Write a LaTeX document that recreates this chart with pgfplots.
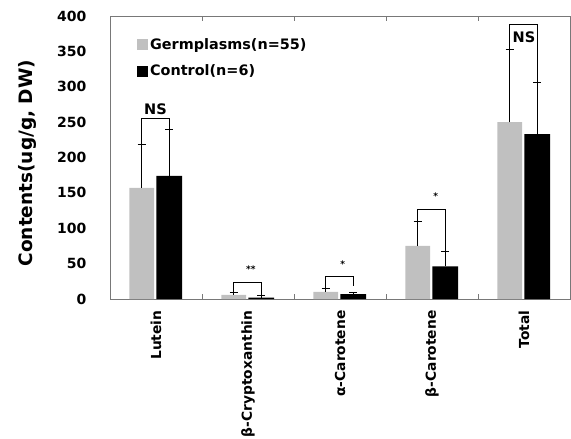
\documentclass[border=0pt]{standalone}
\usepackage{pgfplots}
\pgfplotsset{compat=1.18}
\usepackage{fontspec}
\setmainfont{DejaVu Sans}
\definecolor{barGray}{RGB}{192,192,192}
\definecolor{frameGray}{RGB}{120,120,120}
\pgfplotsset{sqlegend/.style={legend image code/.code={\fill[##1,draw=none] (0pt,-5.5pt) rectangle (11pt,5.5pt);}}}
\begin{document}
\begin{tikzpicture}[font=\bfseries]
\useasboundingbox (-110pt,-140pt) rectangle (461pt,299pt);
\begin{axis}[
  at={(0,0)}, anchor=south west,
  scale only axis, width=460pt, height=283pt,
  xmin=-0.5, xmax=4.5, ymin=0, ymax=400,
  ytick={0,50,...,400},
  xtick={0,1,2,3,4},
  xticklabels={Lutein, β-Cryptoxanthin, α-Carotene, β-Carotene, Total},
  /pgf/number format/assume math mode=true,
  x tick label style={rotate=90, anchor=east, font=\bfseries\fontsize{13.8}{14}\selectfont},
  xticklabel shift=8pt,
  y tick label style={font=\bfseries\fontsize{14}{14}\selectfont, xshift=-20pt},
  major tick length=0pt,
  extra x ticks={0.5,1.5,2.5,3.5},
  extra x tick labels={},
  extra x tick style={major tick length=5pt, tick align=inside, tick style={frameGray, line width=0.6pt}},
  axis line style={frameGray, line width=0.8pt},
  ylabel={Contents(ug/g, DW)},
  ylabel style={at={(axis description cs:-0.18,0.48)}, anchor=center, font=\bfseries\fontsize{18.5}{19}\selectfont},
  legend style={at={(0.052,0.935)}, anchor=north west, draw=none, fill=none,
    font=\bfseries\fontsize{14.4}{15}\selectfont, row sep=10pt, nodes={inner sep=2pt}},
  legend cell align=left,
  clip=false,
]
\addplot[ybar, bar width=0.27, bar shift=0pt, fill=barGray, draw=none, sqlegend,
  error bars/.cd, y dir=plus, y explicit,
  error bar style={black, line width=0.6pt},
  error mark options={rotate=90, black, mark size=4pt, line width=0.6pt}]
  coordinates {(-0.155,157) +- (0,62) (0.845,6) +- (0,3) (1.845,10) +- (0,5) (2.845,75) +- (0,35) (3.845,250) +- (0,103)};
\addlegendentry{Germplasms(n=55)}
\addplot[ybar, bar width=0.28, bar shift=0pt, fill=black, draw=none, sqlegend,
  error bars/.cd, y dir=plus, y explicit,
  error bar style={black, line width=0.6pt},
  error mark options={rotate=90, black, mark size=4pt, line width=0.6pt}]
  coordinates {(0.145,174) +- (0,66) (1.145,2) +- (0,3) (2.145,7) +- (0,2) (3.145,46) +- (0,21) (4.145,233) +- (0,73)};
\addlegendentry{Control(n=6)}
% significance brackets
\addplot[black, line width=0.6pt, forget plot] coordinates {(-0.155,219) (-0.155,256) (0.145,256) (0.145,240)};
\addplot[black, line width=0.6pt, forget plot] coordinates {(0.845,9) (0.845,24) (1.145,24) (1.145,5)};
\addplot[black, line width=0.6pt, forget plot] coordinates {(1.845,15) (1.845,31.5) (2.145,31.5) (2.145,18)};
\addplot[black, line width=0.6pt, forget plot] coordinates {(2.845,110) (2.845,127) (3.145,127) (3.145,67)};
\addplot[black, line width=0.6pt, forget plot] coordinates {(3.845,353) (3.845,388) (4.145,388) (4.145,306)};
\node[font=\bfseries\fontsize{14.5}{15}\selectfont] at (axis cs:-0.005,268) {NS};
\node[font=\bfseries\fontsize{14.5}{15}\selectfont] at (axis cs:4.0,370) {NS};
\node[font=\bfseries\fontsize{9}{9}\selectfont] at (axis cs:1.03,42) {**};
\node[font=\bfseries\fontsize{9}{9}\selectfont] at (axis cs:2.03,49) {*};
\node[font=\bfseries\fontsize{9}{9}\selectfont] at (axis cs:3.04,146) {*};
\end{axis}
\end{tikzpicture}
\end{document}
